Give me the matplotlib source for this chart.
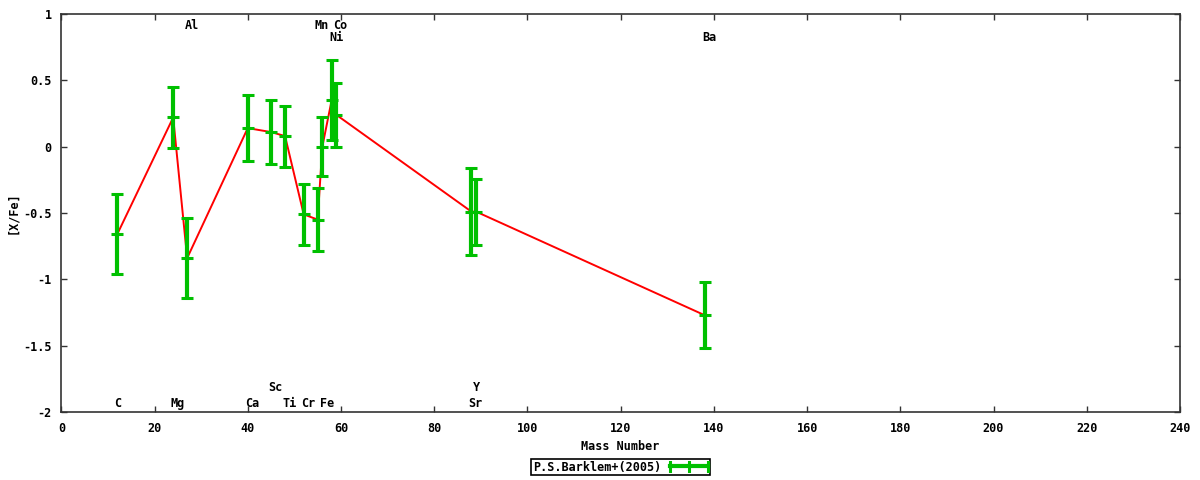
import matplotlib
matplotlib.use("Agg")
import matplotlib.pyplot as plt
from matplotlib.legend_handler import HandlerBase
from matplotlib.lines import Line2D

# element abundances [X/Fe] vs mass number (P.S.Barklem+ 2005)
elements = ["C", "Mg", "Al", "Ca", "Sc", "Ti", "Cr", "Mn", "Fe", "Ni", "Co", "Sr", "Y", "Ba"]
mass = [12, 24, 27, 40, 45, 48, 52, 55, 56, 58, 59, 88, 89, 138]
xfe = [-0.66, 0.22, -0.84, 0.14, 0.11, 0.08, -0.51, -0.55, 0.0, 0.35, 0.24, -0.49, -0.49, -1.27]
err = [0.30, 0.23, 0.30, 0.25, 0.24, 0.23, 0.23, 0.24, 0.22, 0.30, 0.24, 0.33, 0.25, 0.25]

# element name labels: (name, x, y)
label_names = ["Al", "Mn", "Co", "Ni", "Ba", "C", "Mg", "Ca", "Ti", "Cr", "Fe", "Sr", "Sc", "Y"]
label_x = [27, 55, 59, 58, 138, 12, 24, 40, 48, 52, 56, 88, 45, 89]
label_y = [0.915, 0.915, 0.915, 0.825, 0.825, -1.935, -1.935, -1.935, -1.935,
           -1.935, -1.935, -1.935, -1.815, -1.815]

GREEN = "#00c000"
FONT = dict(family="DejaVu Sans Mono", fontweight="bold", fontsize=8.5)

plt.rcParams["axes.unicode_minus"] = False


class HorizErrHandler(HandlerBase):
    """gnuplot-style key sample: horizontal bar with end caps and a centre tick"""
    def create_artists(self, legend, orig_handle, xdescent, ydescent,
                       width, height, fontsize, trans):
        y = height / 2 - ydescent
        x0, x1 = -xdescent, width - xdescent
        h = height * 0.5
        arts = [Line2D([x0, x1], [y, y], color=GREEN, lw=3)]
        for xx in (x0, (x0 + x1) / 2, x1):
            arts.append(Line2D([xx, xx], [y - h, y + h], color=GREEN, lw=2.2))
        for a in arts:
            a.set_transform(trans)
        return arts


fig = plt.figure(figsize=(12, 4.8), dpi=100)
ax = fig.add_axes([0.0511, 0.1417, 0.9322, 0.8291])

ax.plot(mass, xfe, color="red", lw=1.4, zorder=2)
eb = ax.errorbar(mass, xfe, yerr=err, fmt="_", color=GREEN, ecolor=GREEN,
                 elinewidth=3, capsize=4.5, capthick=2.2, markersize=9,
                 mew=2.2, label="P.S.Barklem+(2005)", zorder=3)

for name, x, y in zip(label_names, label_x, label_y):
    ax.annotate(name, (x, y), xytext=(-2, 0), textcoords="offset points",
                ha="left", va="center", **FONT)

ax.set_xlim(0, 240)
ax.set_ylim(-2, 1)
ax.set_xticks(range(0, 241, 20))
ax.set_yticks([-2, -1.5, -1, -0.5, 0, 0.5, 1])
ax.set_yticklabels(["-2", "-1.5", "-1", "-0.5", "0", "0.5", "1"])
ax.tick_params(direction="in", length=4, width=1, top=True, right=True,
               color="#333333", pad=7)
for lab in ax.get_xticklabels() + ax.get_yticklabels():
    lab.set_fontfamily("DejaVu Sans Mono")
    lab.set_fontweight("bold")
    lab.set_fontsize(8.5)
for s in ax.spines.values():
    s.set_linewidth(1.2)
    s.set_color("#333333")

ax.set_xlabel("Mass Number", labelpad=4, **FONT)
ax.set_ylabel("[X/Fe]", labelpad=3, **FONT)

proxy = Line2D([], [], color=GREEN)
leg = fig.legend(handles=[proxy], labels=["P.S.Barklem+(2005)"],
                 handler_map={Line2D: HorizErrHandler()},
                 loc="center", bbox_to_anchor=(0.517, 0.027),
                 markerfirst=False, fancybox=False, framealpha=1,
                 edgecolor="black", borderpad=0.15, handlelength=3.2,
                 handletextpad=0.8, borderaxespad=0,
                 prop={"family": "DejaVu Sans Mono", "weight": "bold", "size": 8.5})
leg.get_frame().set_linewidth(1.2)

fig.savefig("out.png", dpi=100)
